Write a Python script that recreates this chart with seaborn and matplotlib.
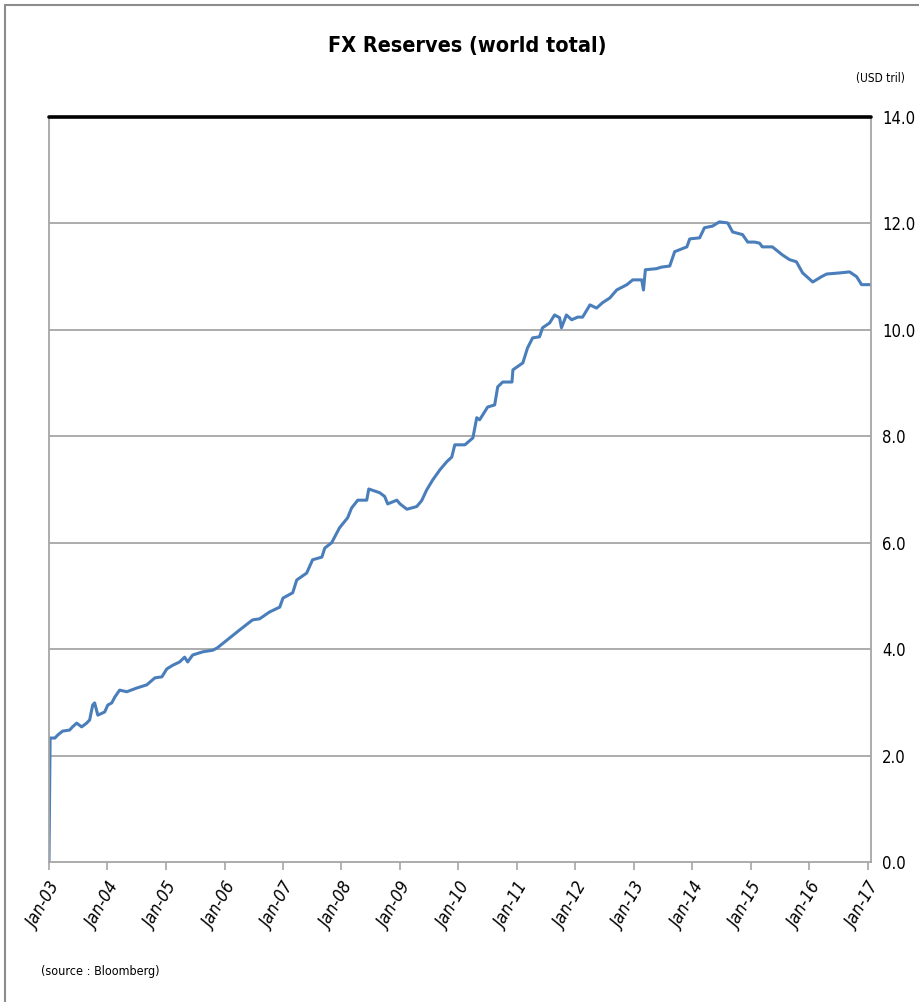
import pandas as pd
import seaborn as sns
import matplotlib.pyplot as plt
import matplotlib.dates as mdates
from matplotlib.lines import Line2D

sns.set_style('white')
plt.rcParams['font.family'] = ['Liberation Sans Narrow', 'DejaVu Sans']
plt.rcParams['font.stretch'] = 'condensed'
plt.rcParams['text.color'] = 'black'
plt.rcParams['xtick.color'] = 'black'
plt.rcParams['ytick.color'] = 'black'

DPI = 100
LINE_COLOR = '#4a7ebb'
GRID_COLOR = '#a6a6a6'

# values (USD tril)
dates = [
    '2003-01-01', '2003-01-08', '2003-02-07', '2003-02-26', '2003-03-27',
    '2003-05-10', '2003-05-28', '2003-06-23', '2003-07-24', '2003-08-24',
    '2003-09-12', '2003-10-01', '2003-10-13', '2003-11-02', '2003-12-15',
    '2004-01-03', '2004-01-28', '2004-02-16', '2004-03-17', '2004-05-01',
    '2004-07-02', '2004-09-03', '2004-10-23', '2004-12-06', '2005-01-06',
    '2005-02-13', '2005-03-27', '2005-04-27', '2005-05-16', '2005-06-16',
    '2005-08-18', '2005-10-19', '2005-11-15', '2006-01-16', '2006-04-05',
    '2006-06-25', '2006-08-08', '2006-10-10', '2006-12-12', '2007-01-01',
    '2007-03-03', '2007-03-28', '2007-05-29', '2007-07-05', '2007-09-01',
    '2007-09-19', '2007-11-01', '2007-12-20', '2008-02-09', '2008-03-04',
    '2008-04-12', '2008-06-07', '2008-06-20', '2008-08-27', '2008-09-27',
    '2008-10-16', '2008-12-12', '2009-01-01', '2009-02-13', '2009-04-15',
    '2009-05-16', '2009-06-16', '2009-07-24', '2009-09-07', '2009-10-19',
    '2009-11-20', '2009-12-09', '2010-02-10', '2010-04-01', '2010-04-25',
    '2010-05-13', '2010-07-02', '2010-08-15', '2010-09-03', '2010-10-04',
    '2010-12-01', '2010-12-07', '2011-02-07', '2011-03-08', '2011-04-09',
    '2011-05-22', '2011-06-10', '2011-07-24', '2011-08-24', '2011-09-24',
    '2011-10-06', '2011-11-06', '2011-12-09', '2012-01-15', '2012-02-15',
    '2012-04-01', '2012-05-12', '2012-06-18', '2012-08-03', '2012-09-15',
    '2012-11-18', '2012-12-24', '2013-02-18', '2013-03-01', '2013-03-13',
    '2013-05-20', '2013-06-22', '2013-08-12', '2013-09-12', '2013-11-27',
    '2013-12-15', '2014-02-15', '2014-03-17', '2014-05-06', '2014-06-18',
    '2014-08-09', '2014-09-09', '2014-11-10', '2014-12-12', '2015-01-24',
    '2015-02-24', '2015-03-13', '2015-05-15', '2015-07-16', '2015-08-30',
    '2015-10-12', '2015-11-20', '2016-01-22', '2016-03-17', '2016-04-18',
    '2016-07-07', '2016-09-08', '2016-10-22', '2016-11-22', '2017-01-19',
]
reserves = [
    0.00, 2.33, 2.33, 2.39, 2.46,
    2.48, 2.54, 2.61, 2.54, 2.61,
    2.67, 2.95, 2.99, 2.76, 2.82,
    2.95, 2.99, 3.10, 3.23, 3.20,
    3.27, 3.33, 3.46, 3.48, 3.63,
    3.70, 3.76, 3.85, 3.76, 3.89,
    3.95, 3.98, 4.02, 4.17, 4.36,
    4.55, 4.57, 4.70, 4.79, 4.96,
    5.06, 5.30, 5.43, 5.68, 5.73,
    5.90, 6.00, 6.28, 6.47, 6.65,
    6.80, 6.80, 7.01, 6.94, 6.87,
    6.73, 6.80, 6.73, 6.63, 6.68,
    6.79, 6.99, 7.18, 7.37, 7.52,
    7.61, 7.84, 7.84, 7.97, 8.35,
    8.31, 8.55, 8.59, 8.93, 9.02,
    9.02, 9.25, 9.38, 9.66, 9.85,
    9.87, 10.04, 10.13, 10.28, 10.23,
    10.04, 10.28, 10.19, 10.24, 10.24,
    10.47, 10.41, 10.51, 10.60, 10.75,
    10.85, 10.94, 10.94, 10.75, 11.13,
    11.15, 11.18, 11.20, 11.47, 11.56,
    11.71, 11.73, 11.92, 11.95, 12.03,
    12.01, 11.84, 11.79, 11.65, 11.65,
    11.63, 11.56, 11.56, 11.41, 11.32,
    11.28, 11.07, 10.90, 11.00, 11.05,
    11.07, 11.09, 11.00, 10.85, 10.85,
]
tick_years = list(range(2003, 2018))
y_ticks = [0, 2, 4, 6, 8, 10, 12, 14]

df = pd.DataFrame({'date': pd.to_datetime(dates), 'reserves': reserves})

fig = plt.figure(figsize=(9.19, 10.02), dpi=DPI)
ax = fig.add_axes([0.0533, 0.1397, 0.8945, 0.7435])

sns.lineplot(data=df, x='date', y='reserves', ax=ax,
             color=LINE_COLOR, linewidth=2.2)

ax.set_xlim(pd.Timestamp('2003-01-01'), pd.Timestamp('2017-01-20'))
ax.set_ylim(0, 14)

# horizontal gridlines, top one heavy black
for v in y_ticks[1:-1]:
    ax.axhline(v, color=GRID_COLOR, linewidth=1.3, zorder=0)
ax.axhline(14, color='black', linewidth=2.6, zorder=3, clip_on=False)

for side in ['left', 'right', 'bottom']:
    ax.spines[side].set_color(GRID_COLOR)
    ax.spines[side].set_linewidth(1.3)
ax.spines['top'].set_visible(False)

ax.yaxis.tick_right()
ax.set_yticks(y_ticks)
ax.set_yticklabels([f'{v:.1f}' for v in y_ticks], fontsize=12)
ax.tick_params(axis='y', length=0, pad=8)

ax.set_xticks([pd.Timestamp(f'{y}-01-01') for y in tick_years])
ax.xaxis.set_major_formatter(mdates.DateFormatter('Jan-%y'))
ax.tick_params(axis='x', direction='out', length=6, color=GRID_COLOR,
               width=1.2, pad=7, labelsize=12.5, bottom=True)
for lbl in ax.get_xticklabels():
    lbl.set_rotation(60)
    lbl.set_ha('right')
    lbl.set_rotation_mode('anchor')
    lbl.set_style('italic')

ax.set_xlabel('')
ax.set_ylabel('')

fig.text(0.508, 0.954, 'FX Reserves (world total)', ha='center', va='center',
         fontsize=15.5, fontweight='bold')
fig.text(0.958, 0.922, '(USD tril)', ha='center', va='center', fontsize=8.5)
fig.text(0.045, 0.030, '(source : Bloomberg)', ha='left', va='center',
         fontsize=9)

# outer frame of the original slide
fig.add_artist(Line2D([0.0055, 0.0055], [0.0, 0.995], color='#8c8c8c',
                      linewidth=1.5, transform=fig.transFigure))
fig.add_artist(Line2D([0.0055, 1.0], [0.995, 0.995], color='#8c8c8c',
                      linewidth=1.5, transform=fig.transFigure))

plt.savefig('out.png', dpi=DPI)
